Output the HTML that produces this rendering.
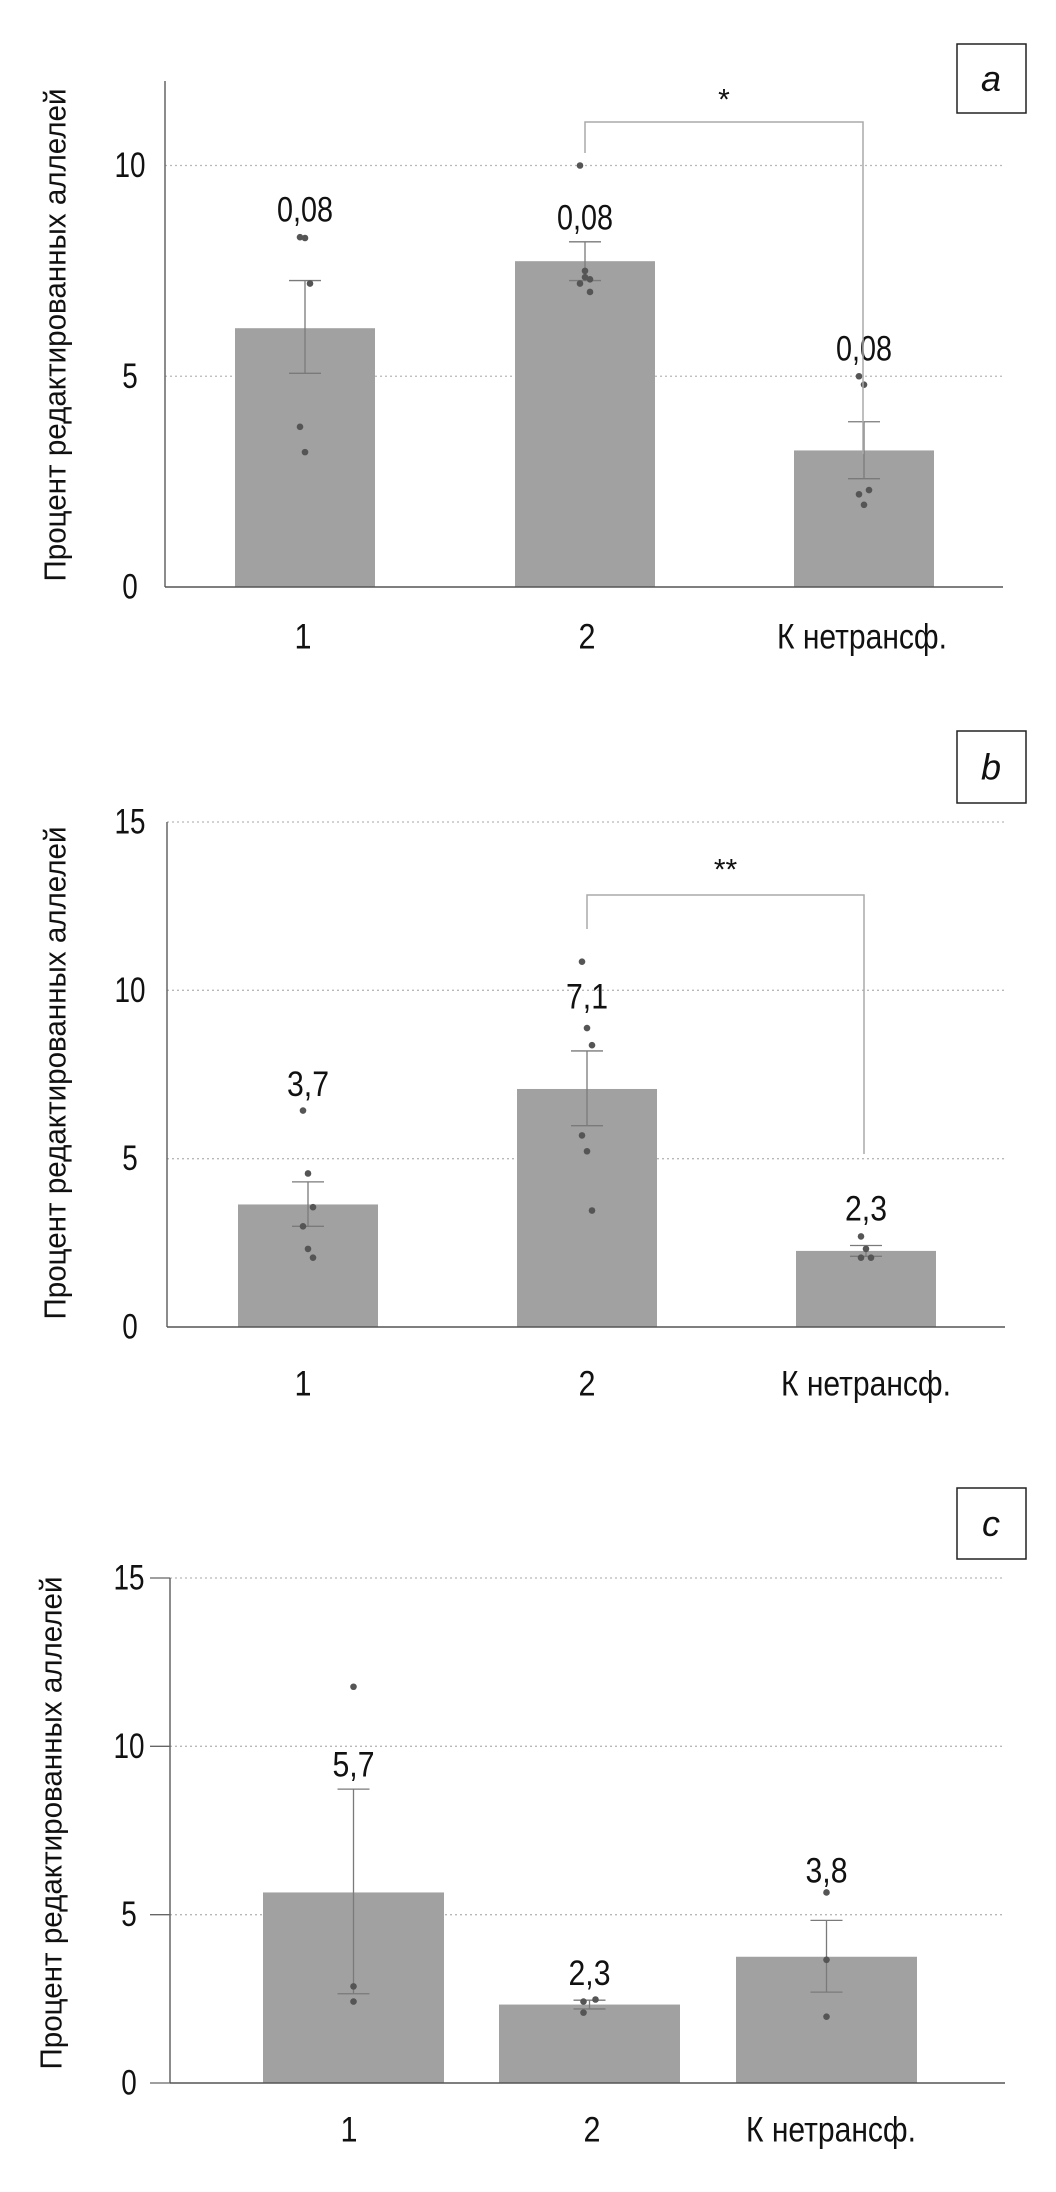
<!DOCTYPE html>
<html><head><meta charset="utf-8"><style>
html,body{margin:0;padding:0;background:#fff;}
svg{display:block;font-family:"Liberation Sans Narrow","Liberation Sans",sans-serif;}
</style></head><body>
<svg id="chart" width="1056" height="2192" viewBox="0 0 1056 2192" xmlns="http://www.w3.org/2000/svg"></svg>
<script>
const categories = ["1", "2", "К нетрансф."];
// Panel a
const aMeans = [6.14, 7.73, 3.24];
const aErrHi = [7.27, 8.19, 3.92];
const aErrLo = [5.07, 7.27, 2.57];
const aLabels = ["0,08", "0,08", "0,08"];
const aLabelVals = [8.95, 8.75, 5.65];
const aPoints = [[8.3, 8.28, 7.2, 3.8, 3.2], [10.0, 7.5, 7.3, 7.2, 7.35, 7.0], [5.0, 4.8, 2.3, 2.2, 1.95]];
const aTicks = [0, 5, 10];
// Panel b
const bMeans = [3.64, 7.07, 2.26];
const bErrHi = [4.31, 8.2, 2.42];
const bErrLo = [2.99, 5.98, 2.1];
const bLabels = ["3,7", "7,1", "2,3"];
const bLabelVals = [7.2, 9.8, 3.5];
const bPoints = [[6.43, 4.56, 3.56, 2.99, 2.32, 2.06], [10.85, 8.88, 8.37, 5.69, 5.22, 3.46], [2.69, 2.32, 2.06, 2.06]];
const bTicks = [0, 5, 10, 15];
// Panel c
const cMeans = [5.66, 2.33, 3.75];
const cErrHi = [8.73, 2.46, 4.83];
const cErrLo = [2.65, 2.2, 2.7];
const cLabels = ["5,7", "2,3", "3,8"];
const cLabelVals = [9.45, 3.25, 6.3];
const cPoints = [[11.77, 2.87, 2.42], [2.42, 2.48, 2.09], [5.66, 3.66, 1.97]];
const cTicks = [0, 5, 10, 15];

const NS = "http://www.w3.org/2000/svg";
const svg = document.getElementById("chart");
function mk(tag, attrs, parent, text) {
  const e = document.createElementNS(NS, tag);
  for (const k in attrs) e.setAttribute(k, attrs[k]);
  if (text !== undefined) e.textContent = text;
  (parent || svg).appendChild(e);
  return e;
}

function panel(cfg) {
  const g = mk("g", {});
  
  
  const y = v => cfg.y0 - (v / cfg.max) * (cfg.y0 - cfg.yTop);
  cfg.ticks.forEach(t => {
    if (t > 0) {
      const gl = mk("line", {x1: cfg.ax, x2: cfg.axEnd, y1: y(t), y2: y(t), stroke: "#b8b8b8", "stroke-width": 1.3, "stroke-dasharray": "2,3"}, g);
      
      
    }
    const tl = mk("text", {x: cfg.tickX, y: y(t), "text-anchor": "middle", "dominant-baseline": "central", "font-size": 35, fill: "#111", textLength: String(t).length * 15.5, lengthAdjust: "spacingAndGlyphs"}, g, String(t));
    
    
    if (cfg.tickMarks) {
      const tm = mk("line", {x1: cfg.ax - 20, x2: cfg.ax, y1: y(t), y2: y(t), stroke: "#666", "stroke-width": 1.3}, g);
      
      
    }
  });
  categories.forEach((c, i) => {
    const x0 = cfg.barX[i], w = cfg.barW, cx = x0 + w / 2;
    const b = mk("rect", {x: x0, y: y(cfg.means[i]), width: w, height: cfg.y0 - y(cfg.means[i]), fill: "#a1a1a1"}, g);
    
    
    const eb = mk("g", {stroke: "#7a7a7a", "stroke-width": 1.3}, g);
    
    
    mk("line", {x1: cx, x2: cx, y1: y(cfg.hi[i]), y2: y(cfg.lo[i])}, eb);
    mk("line", {x1: cx - 16, x2: cx + 16, y1: y(cfg.hi[i]), y2: y(cfg.hi[i])}, eb);
    mk("line", {x1: cx - 16, x2: cx + 16, y1: y(cfg.lo[i]), y2: y(cfg.lo[i])}, eb);
    cfg.points[i].forEach((p, j) => {
      const off = cfg.points[i].length > 3 ? ((j % 3) - 1) * 5 : ((j % 2) ? 6 : -6) * (cfg.id === "c" && i === 1 ? 1 : 0);
      const d = mk("circle", {cx: cx + off, cy: y(p), r: 3.3, fill: "#555"}, g);
      
      
    });
    const vl = mk("text", {x: cx, y: y(cfg.labelVals[i]), "text-anchor": "middle", "dominant-baseline": "central", "font-size": 35, fill: "#111", textLength: cfg.labels[i].length * 14, lengthAdjust: "spacingAndGlyphs"}, g, cfg.labels[i]);
    
    
    const xl = mk("text", {x: cfg.xLabX[i], y: cfg.xLabY, "text-anchor": "middle", "dominant-baseline": "central", "font-size": 35, fill: "#111", textLength: c.length > 2 ? 170 : 17, lengthAdjust: "spacingAndGlyphs"}, g, c);
    
    
  });
  const ya = mk("line", {x1: cfg.ax, x2: cfg.ax, y1: cfg.axTop, y2: cfg.y0, stroke: "#666", "stroke-width": 1.5}, g);
  
  
  const xa = mk("line", {x1: cfg.ax, x2: cfg.axEnd, y1: cfg.y0, y2: cfg.y0, stroke: "#555", "stroke-width": 1.5}, g);
  
  
  const yt = mk("text", {x: 0, y: 0, transform: `translate(${cfg.ylX},${cfg.ylY}) rotate(-90)`, "text-anchor": "middle", "dominant-baseline": "central", "font-size": 31, fill: "#111", textLength: 493, lengthAdjust: "spacingAndGlyphs"}, g, "Процент редактированных аллелей");
  
  
  if (cfg.bracket) {
    const br = cfg.bracket;
    const bp = mk("path", {d: `M${br.x1},${br.yl} V${br.y} H${br.x2} V${br.yr}`, fill: "none", stroke: "#aaa", "stroke-width": 1.5}, g);
    
    
    const st = mk("text", {x: (br.x1 + br.x2) / 2, y: br.sy, "text-anchor": "middle", "dominant-baseline": "central", "font-size": 30, fill: "#111"}, g, br.star);
    
    
  }
  const lb = mk("rect", {x: 957, y: cfg.box[0], width: 69, height: cfg.box[1] - cfg.box[0], fill: "#fff", stroke: "#222", "stroke-width": 1.5}, g);
  
  
  const lt = mk("text", {x: 991, y: (cfg.box[0] + cfg.box[1]) / 2, "text-anchor": "middle", "dominant-baseline": "central", "font-size": 36, "font-style": "italic", fill: "#111"}, g, cfg.id);
  
  
}

panel({id: "a", means: aMeans, hi: aErrHi, lo: aErrLo, labels: aLabels, labelVals: aLabelVals, points: aPoints, ticks: aTicks,
  max: 10, y0: 587, yTop: 165.5, ax: 165, axEnd: 1003, axTop: 81, tickX: 130, tickMarks: false,
  barX: [235, 515, 794], barW: 140, xLabX: [303, 587, 862], xLabY: 637, ylX: 55, ylY: 335,
  bracket: {x1: 585, x2: 863, y: 122, yl: 153, yr: 454, sy: 100, star: "*"}, box: [44, 113]});
panel({id: "b", means: bMeans, hi: bErrHi, lo: bErrLo, labels: bLabels, labelVals: bLabelVals, points: bPoints, ticks: bTicks,
  max: 15, y0: 1327, yTop: 822, ax: 167, axEnd: 1005, axTop: 822, tickX: 130, tickMarks: false,
  barX: [238, 517, 796], barW: 140, xLabX: [303, 587, 866], xLabY: 1384, ylX: 55, ylY: 1073,
  bracket: {x1: 587, x2: 864, y: 895, yl: 929, yr: 1154, sy: 870, star: "**"}, box: [731, 803]});
panel({id: "c", means: cMeans, hi: cErrHi, lo: cErrLo, labels: cLabels, labelVals: cLabelVals, points: cPoints, ticks: cTicks,
  max: 15, y0: 2083, yTop: 1578, ax: 170, axEnd: 1005, axTop: 1578, tickX: 129, tickMarks: true,
  barX: [263, 499, 736], barW: 181, xLabX: [349, 592, 831], xLabY: 2130, ylX: 51, ylY: 1823,
  bracket: null, box: [1488, 1559]});
</script>
</body></html>
